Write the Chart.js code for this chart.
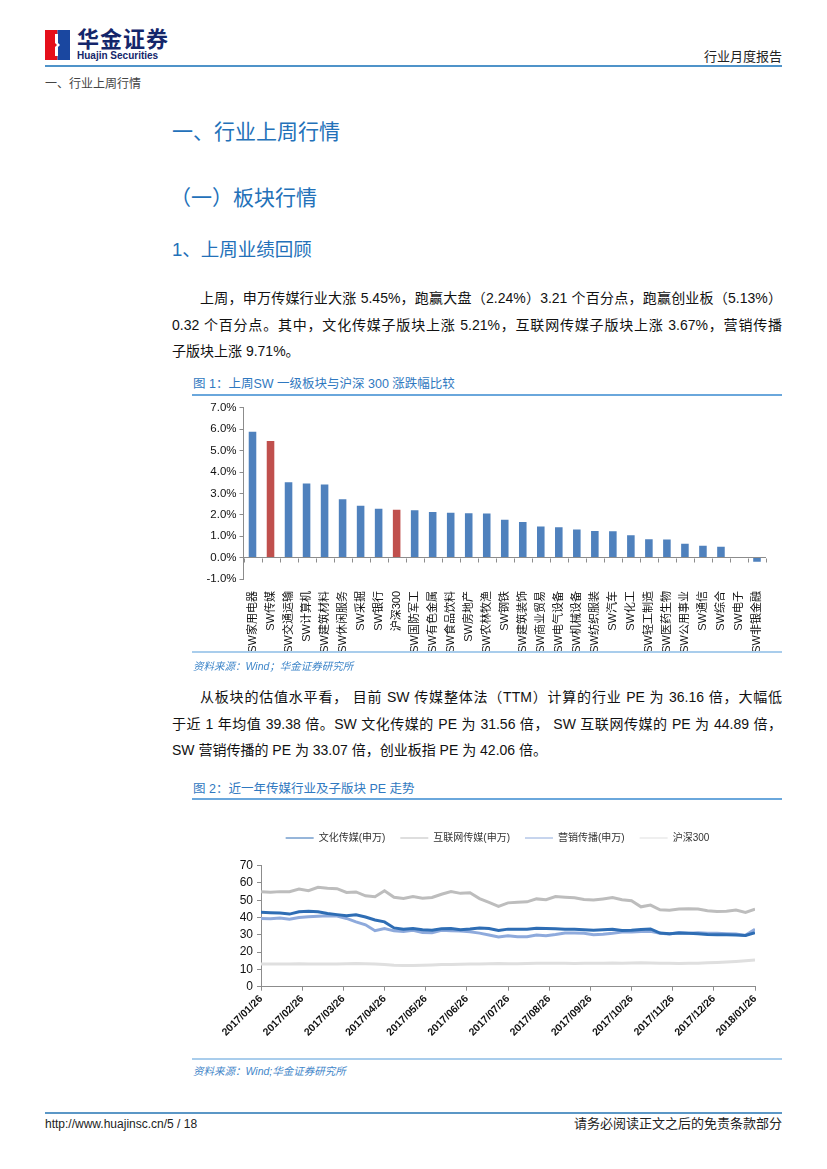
<!DOCTYPE html>
<html><head><meta charset="utf-8">
<script src="https://cdn.jsdelivr.net/npm/chart.js@4/dist/chart.umd.min.js"></script>
<style>
html,body{margin:0;padding:0;background:#fff;}
body{width:827px;height:1169px;position:relative;overflow:hidden;font-family:"Liberation Sans","Noto Sans CJK SC",sans-serif;color:#111;}
.a{position:absolute;white-space:nowrap;line-height:1;}
.ln{position:absolute;}
.h{color:#2371b9;font-family:"Liberation Sans","Noto Sans CJK SC",sans-serif;}
.p{position:absolute;font-size:14px;line-height:1;color:#111;}
.j{text-align:justify;text-align-last:justify;}
.cap{color:#2f78c0;font-size:12.5px;}
.src{color:#3f86c9;font-size:10.5px;font-style:italic;}
canvas{position:absolute;}
</style></head>
<body>
<!-- header -->
<svg class="ln" style="left:45px;top:30px" width="25" height="30" viewBox="0 0 25 30">
<rect x="0" y="0" width="12.5" height="30" fill="#e50f1b"/>
<rect x="12.5" y="0" width="12.5" height="30" fill="#1a47a0"/>
<polygon points="10,4 13,4 13,13 15,15 13,17 13,26 10,26 10,17 12,15 10,13" fill="#fff"/>
</svg>
<div class="a" style="left:77px;top:29px;font-size:22px;font-weight:bold;color:#14266b;letter-spacing:1px">华金证券</div>
<div class="a" style="left:77px;top:51px;font-size:10px;font-weight:bold;color:#14266b">Huajin Securities</div>
<div class="a" style="right:45px;top:50px;font-size:13px;color:#222">行业月度报告</div>
<div class="ln" style="left:45px;top:65px;width:737px;height:2px;background:#4f93c9"></div>
<div class="a" style="left:45px;top:78px;font-size:12px;color:#444">一、行业上周行情</div>

<div class="a h" style="left:172px;top:121px;font-size:21px">一、行业上周行情</div>
<div class="a h" style="left:170px;top:187px;font-size:21px">（一）板块行情</div>
<div class="a h" style="left:172px;top:241px;font-size:18.5px">1、上周业绩回顾</div>

<div class="p j" style="left:200px;top:291px;width:582px">上周，申万传媒行业大涨 5.45%，跑赢大盘（2.24%）3.21 个百分点，跑赢创业板（5.13%）</div>
<div class="p j" style="left:172px;top:318px;width:610px">0.32 个百分点。其中，文化传媒子版块上涨 5.21%，互联网传媒子版块上涨 3.67%，营销传播</div>
<div class="p" style="left:172px;top:344px;">子版块上涨 9.71%。</div>

<div class="a cap" style="left:193px;top:378px">图 1：上周SW 一级板块与沪深 300 涨跌幅比较</div>
<div class="ln" style="left:192px;top:394px;width:590px;height:1.5px;background:#6aa7dc"></div>
<canvas id="c1" width="590" height="254" style="left:192px;top:398px;width:590px;height:254px"></canvas>
<div class="ln" style="left:192px;top:651px;width:590px;height:2px;background:#a9cdec"></div>
<div class="a src" style="left:193px;top:661px">资料来源：Wind；华金证券研究所</div>

<div class="p j" style="left:200px;top:690px;width:582px">从板块的估值水平看， 目前 SW 传媒整体法（TTM）计算的行业 PE 为 36.16 倍，大幅低</div>
<div class="p j" style="left:172px;top:717px;width:610px">于近 1 年均值 39.38 倍。SW 文化传媒的 PE 为 31.56 倍， SW 互联网传媒的 PE 为 44.89 倍，</div>
<div class="p" style="left:172px;top:743px;">SW 营销传播的 PE 为 33.07 倍，创业板指 PE 为 42.06 倍。</div>

<div class="a cap" style="left:193px;top:783px">图 2：近一年传媒行业及子版块 PE 走势</div>
<div class="ln" style="left:192px;top:798px;width:590px;height:1.5px;background:#6aa7dc"></div>
<canvas id="c2" width="590" height="250" style="left:192px;top:805px;width:590px;height:250px"></canvas>
<div class="ln" style="left:192px;top:1058px;width:590px;height:2px;background:#a9cdec"></div>
<div class="a src" style="left:193px;top:1066px">资料来源：Wind;华金证券研究所</div>

<div class="ln" style="left:45px;top:1112px;width:737px;height:2px;background:#5b97c6"></div>
<div class="a" style="left:45px;top:1118px;font-size:12px;color:#222">http://www.huajinsc.cn/5 / 18</div>
<div class="a" style="right:45px;top:1117px;font-size:13px;color:#222">请务必阅读正文之后的免责条款部分</div>

<script>
// ---------- Chart 1 data ----------
const categories = ['SW家用电器','SW传媒','SW交通运输','SW计算机','SW建筑材料','SW休闲服务','SW采掘','SW银行','沪深300','SW国防军工','SW有色金属','SW食品饮料','SW房地产','SW农林牧渔','SW钢铁','SW建筑装饰','SW商业贸易','SW电气设备','SW机械设备','SW纺织服装','SW汽车','SW化工','SW轻工制造','SW医药生物','SW公用事业','SW通信','SW综合','SW电子','SW非银金融'];
const weeklyChange = [5.89,5.45,3.52,3.47,3.42,2.73,2.42,2.28,2.24,2.22,2.13,2.10,2.08,2.06,1.77,1.67,1.45,1.42,1.31,1.25,1.23,1.05,0.86,0.85,0.65,0.56,0.51,0.00,-0.19];
const highlighted = ['SW传媒','沪深300'];

// ---------- Chart 2 data ----------
const monthLabels = ['2017/01/26','2017/02/26','2017/03/26','2017/04/26','2017/05/26','2017/06/26','2017/07/26','2017/08/26','2017/09/26','2017/10/26','2017/11/26','2017/12/26','2018/01/26'];
const seriesNames = ['文化传媒(申万)','互联网传媒(申万)','营销传播(申万)','沪深300'];
const peWenhua = [43.0,42.8,42.6,42.0,43.4,43.6,43.3,42.3,41.7,41.0,41.6,40.3,38.6,37.5,34.0,33.2,33.6,32.9,32.6,33.5,33.6,33.0,33.4,34.0,33.7,32.5,33.3,33.2,33.2,33.8,33.7,33.5,33.2,33.2,33.0,32.7,32.9,33.2,32.5,32.6,33.1,33.4,31.0,30.7,31.0,30.9,30.7,30.2,30.1,30.0,29.9,29.6,31.2];
const peInternet = [55.0,54.6,55.0,55.0,56.5,55.5,57.5,57.0,56.7,54.5,54.8,52.6,52.0,55.5,51.7,51.0,52.2,51.2,51.6,53.5,55.0,54.0,54.3,51.0,48.8,46.5,48.5,48.8,49.1,50.8,50.3,52.2,51.8,51.5,50.4,50.1,50.8,51.6,50.3,49.7,46.2,47.2,44.5,44.3,44.9,45.1,45.0,44.0,43.5,43.6,44.3,43.0,44.9];
const peMarketing = [39.5,39.3,39.7,39.0,40.0,40.5,40.7,41.0,40.9,39.5,37.5,35.8,32.4,33.6,32.3,32.0,32.6,31.3,31.2,32.6,32.4,32.2,31.8,31.0,29.9,28.8,29.5,28.9,28.9,29.9,29.5,30.2,31.1,31.0,30.9,30.1,30.4,30.9,31.6,31.6,32.0,32.0,30.9,30.5,31.4,30.9,31.2,30.9,30.9,30.7,30.5,29.7,33.2];
const peHS300 = [13.1,13.2,13.1,13.2,13.3,13.2,13.2,13.1,13.2,13.3,13.4,13.3,13.2,12.8,12.4,12.3,12.3,12.4,12.6,12.8,12.9,13.0,13.1,13.2,13.3,13.4,13.3,13.3,13.4,13.5,13.6,13.5,13.5,13.4,13.5,13.6,13.6,13.7,13.6,13.7,13.8,13.7,13.6,13.5,13.4,13.5,13.6,13.8,14.0,14.3,14.6,15.0,15.4];

const FONT = '"Liberation Sans","Noto Sans CJK SC",sans-serif';
const AXIS = '#8c8c8c';
Chart.defaults.font.family = FONT;
Chart.defaults.color = '#111';

// zero-line category ticks for chart 1
const zeroTicks = {
  id: 'zeroTicks',
  afterDatasetsDraw(chart) {
    const x = chart.scales.x, y = chart.scales.y, ctx = chart.ctx;
    const y0 = Math.round(y.getPixelForValue(0)) + 0.5;
    ctx.save(); ctx.strokeStyle = AXIS; ctx.lineWidth = 1; ctx.beginPath();
    for (let i = 0; i <= categories.length; i++) {
      const px = Math.round(x.getPixelForValue(i - 0.5)) + 0.5;
      ctx.moveTo(px, y0); ctx.lineTo(px, y0 + 4);
    }
    ctx.stroke(); ctx.restore();
  }
};

new Chart(document.getElementById('c1'), {
  type: 'bar',
  data: {
    labels: categories,
    datasets: [{
      data: weeklyChange,
      backgroundColor: categories.map(c => highlighted.includes(c) ? '#c0504d' : '#4f81bd'),
      barPercentage: 0.42,
      categoryPercentage: 1.0
    }]
  },
  options: {
    responsive: false, animation: false, devicePixelRatio: 1,
    layout: { padding: { top: 7.5, right: 16, left: 0, bottom: 0 } },
    plugins: { legend: { display: false }, tooltip: { enabled: false } },
    scales: {
      x: {
        grid: { display: false }, border: { display: false },
        ticks: { autoSkip: false, minRotation: 90, maxRotation: 90, padding: 4, font: { size: 11 }, color: '#111' },
        afterFit(s) { s.height = 73; }
      },
      y: {
        min: -1, max: 7,
        ticks: { stepSize: 1, autoSkip: false, callback: v => v.toFixed(1) + '%', font: { size: 11.5 }, color: '#111', padding: 3 },
        grid: { drawOnChartArea: true, color: c => (c.tick && c.tick.value === 0) ? AXIS : 'rgba(0,0,0,0)', tickColor: AXIS, tickLength: 4 },
        border: { display: true, color: AXIS },
        afterFit(s) { s.width = 51.5; }
      }
    }
  },
  plugins: [zeroTicks]
});

// chart 2
const toPoints = arr => arr.map((v, i) => ({ x: i * (monthLabels.length - 1) / (arr.length - 1), y: v }));
const legendFit = {
  id: 'legendFit',
  beforeInit(chart) {
    const orig = chart.legend.fit;
    chart.legend.fit = function () { orig.call(this); this.height = 47.7; };
  },
  afterLayout(chart) { chart.legend.left += 24; chart.legend.right += 24; }
};
new Chart(document.getElementById('c2'), {
  type: 'line',
  data: {
    datasets: [
      { label: seriesNames[0], data: toPoints(peWenhua), borderColor: '#2e6db4', backgroundColor: '#2e6db4' },
      { label: seriesNames[1], data: toPoints(peInternet), borderColor: '#bdbdbd', backgroundColor: '#bdbdbd' },
      { label: seriesNames[2], data: toPoints(peMarketing), borderColor: '#8eaadc', backgroundColor: '#8eaadc' },
      { label: seriesNames[3], data: toPoints(peHS300), borderColor: '#dfdfdf', backgroundColor: '#dfdfdf' }
    ]
  },
  options: {
    responsive: false, animation: false, devicePixelRatio: 1,
    elements: { point: { radius: 0 }, line: { borderWidth: 3, tension: 0 } },
    layout: { padding: { top: 13, right: 27, left: 0, bottom: 0 } },
    plugins: {
      tooltip: { enabled: false },
      legend: {
        position: 'top',
        labels: { usePointStyle: true, pointStyle: 'line', pointStyleWidth: 28, boxHeight: 10, padding: 15, font: { size: 10 }, color: '#333' }
      }
    },
    scales: {
      x: {
        type: 'linear', min: 0, max: monthLabels.length - 1,
        ticks: { stepSize: 1, autoSkip: false, minRotation: 45, maxRotation: 45, callback: v => monthLabels[v], font: { size: 10.5, weight: 'bold' }, color: '#111', padding: 2 },
        grid: { drawOnChartArea: false, tickColor: AXIS, tickLength: 4 },
        border: { color: AXIS },
        afterFit(s) { s.height = 68.3; }
      },
      y: {
        min: 0, max: 70,
        ticks: { stepSize: 10, autoSkip: false, font: { size: 12 }, color: '#111', padding: 4 },
        grid: { drawOnChartArea: false, tickColor: AXIS, tickLength: 4 },
        border: { color: AXIS },
        afterFit(s) { s.width = 69; }
      }
    }
  },
  plugins: [legendFit]
});
</script>
</body></html>
